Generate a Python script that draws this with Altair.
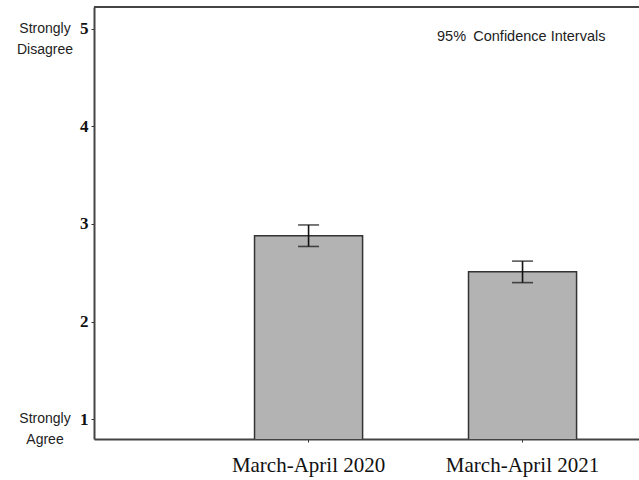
import altair as alt
import pandas as pd

# Survey periods and mean agreement scores with 95% confidence bounds
periods = ["March-April 2020", "March-April 2021"]
means = [2.88, 2.51]
ci_low = [2.77, 2.40]
ci_high = [2.99, 2.62]

# Verbal anchors shown beside the ends of the 1-5 scale
anchor_values = [5, 1]
anchor_lines = [["Strongly", "Disagree"], ["Strongly", "Agree"]]

df = pd.DataFrame({"period": periods, "mean": means, "lo": ci_low, "hi": ci_high})
anchors = pd.DataFrame({"value": anchor_values, "label": anchor_lines})

x_enc = alt.X(
    "period:N",
    sort=periods,
    scale=alt.Scale(paddingInner=0.495, paddingOuter=0.521, align=0.72),
    axis=alt.Axis(
        title=None, labelAngle=0, labelFont="Liberation Serif", labelFontSize=21,
        labelColor="#111", labelPadding=12, tickSize=3, tickColor="#333",
        domainColor="#444", domainWidth=2,
    ),
)
y_scale = alt.Scale(domain=[0.8, 5.22], nice=False, zero=False)
y_enc = alt.Y(
    "mean:Q",
    scale=y_scale,
    axis=alt.Axis(
        title=None, values=[1, 2, 3, 4, 5], format="d", grid=False,
        labelFont="Liberation Serif", labelFontSize=17, labelFontWeight="bold",
        labelColor="#111", labelPadding=3, tickSize=3, tickColor="#333",
        domainColor="#444", domainWidth=2,
    ),
)

bars = alt.Chart(df).mark_bar(
    color="#b3b3b3", stroke="#333333", strokeWidth=1.5, clip=True
).encode(x=x_enc, y=y_enc)

whisker = alt.Chart(df).mark_rule(color="#111", strokeWidth=1.6).encode(
    x=alt.X("period:N", sort=periods),
    y=alt.Y("lo:Q", scale=y_scale),
    y2="hi:Q",
)
cap_hi = alt.Chart(df).mark_tick(
    color="#111", orient="horizontal", size=21, thickness=1.6
).encode(x=alt.X("period:N", sort=periods), y=alt.Y("hi:Q", scale=y_scale))
cap_lo = alt.Chart(df).mark_tick(
    color="#111", orient="horizontal", size=21, thickness=1.6
).encode(x=alt.X("period:N", sort=periods), y=alt.Y("lo:Q", scale=y_scale))

anchor_text = alt.Chart(anchors).mark_text(
    font="Liberation Sans", fontSize=14, color="#222", align="center",
    baseline="middle", lineHeight=21,
).encode(
    x=alt.value(-49),
    y=alt.Y("value:Q", scale=y_scale),
    text="label",
)

# Legend-style note in the upper right; an en space keeps the wide gap after "95%"
note = alt.Chart(pd.DataFrame({"t": ["95%\u2002Confidence Intervals"]})).mark_text(
    font="Liberation Sans", fontSize=14.5, color="#222", align="left", baseline="middle",
).encode(x=alt.value(343), y=alt.value(30), text="t:N")

# Top edge of the plot frame
top_edge = alt.Chart(df).mark_rule(color="#444", strokeWidth=2).encode(
    x=alt.value(0), x2=alt.value(545), y=alt.value(0)
)

chart = alt.layer(bars, whisker, cap_hi, cap_lo, anchor_text, note, top_edge).properties(
    width=545,
    height=432,
    autosize=alt.AutoSizeParams(type="none"),
    padding={"left": 94, "top": 7, "right": 0, "bottom": 41},
).configure_view(
    stroke=None
).configure(background="white")

chart.save("out.html", embed_options={"renderer": "svg", "actions": False})
